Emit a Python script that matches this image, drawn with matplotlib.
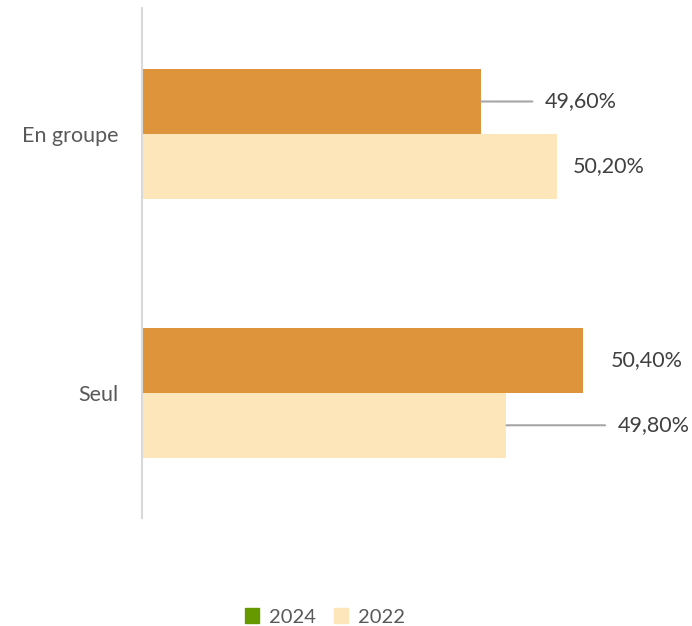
import matplotlib.pyplot as plt
import numpy as np

plt.rcParams["font.family"] = ["Lato", "DejaVu Sans"]

categories = ["Seul", "En groupe"]
series_2024 = [50.4, 49.6]
series_2022 = [49.8, 50.2]
labels_2024 = ["50,40%", "49,60%"]
labels_2022 = ["49,80%", "50,20%"]

base = 46.93  # axe tronqué
c_2024 = "#dd943b"
c_2022 = "#fde6ba"
green = "#669900"

fig = plt.figure(figsize=(6.92, 6.26), dpi=100)
ax = fig.add_axes([142 / 692, 108 / 626, 548 / 692, 510 / 626])

y = np.arange(len(categories))
h = 0.25
v24 = np.array(series_2024) - base
v22 = np.array(series_2022) - base
ax.barh(y + h / 2, v24, height=h, left=base, color=c_2024)
ax.barh(y - h / 2, v22, height=h, left=base, color=c_2022)

ax.set_xlim(base, base + 548 / 127)
ax.set_ylim(-0.483, 1.486)
ax.set_yticks(y)
ax.set_yticklabels(categories, fontsize=15.5, color="#595959")
ax.tick_params(axis="y", length=0, pad=17)
ax.set_xticks([])
for s in ["top", "right", "bottom"]:
    ax.spines[s].set_visible(False)
ax.spines["left"].set_color("#d9d9d9")
ax.spines["left"].set_linewidth(1.5)

# étiquettes de données (offsets en points, lignes de rappel grises)
offs_2024 = [20, 46]
offs_2022 = [80, 11]
lead_2024 = [False, True]
lead_2022 = [True, False]
for i in range(len(categories)):
    for val, yy, lab, off, lead in [
        (series_2024[i], y[i] + h / 2, labels_2024[i], offs_2024[i], lead_2024[i]),
        (series_2022[i], y[i] - h / 2, labels_2022[i], offs_2022[i], lead_2022[i]),
    ]:
        props = dict(arrowstyle="-", color="#a6a6a6", lw=1.5, shrinkA=7, shrinkB=0) if lead else None
        ax.annotate(lab, xy=(val, yy), xytext=(off, 0), textcoords="offset points",
                    va="center", ha="left", fontsize=15.5, color="#404040",
                    arrowprops=props)

handles = [plt.Rectangle((0, 0), 1, 1, color=green),
           plt.Rectangle((0, 0), 1, 1, color=c_2022)]
fig.legend(handles, ["2024", "2022"], loc="center", bbox_to_anchor=(325 / 692, 1 - 617 / 626),
           ncol=2, frameon=False, fontsize=14.5, labelcolor="#595959",
           handlelength=0.7, handleheight=0.7, handletextpad=0.5, columnspacing=0.9)

fig.savefig("out.png", dpi=100)
